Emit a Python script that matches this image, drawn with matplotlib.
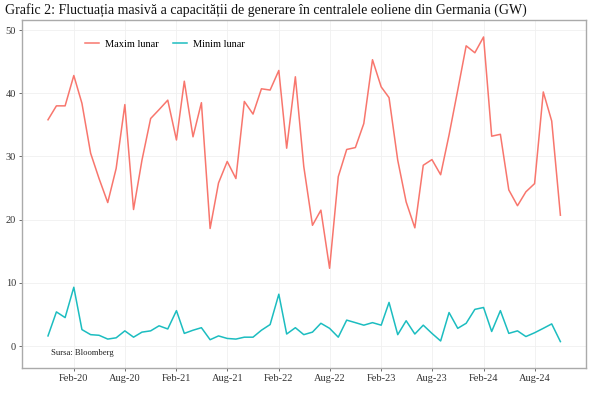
import matplotlib
matplotlib.use("Agg")
import matplotlib.pyplot as plt
import matplotlib.dates as mdates
import pandas as pd

months = pd.date_range("2019-11-01", "2024-11-01", freq="MS")

maxim = [35.8, 38.0, 38.0, 42.8, 38.4, 30.5, 26.5, 22.7, 28.1, 38.2, 21.6, 29.4,
         36.0, 37.4, 38.9, 32.6, 41.9, 33.1, 38.5, 18.6, 25.8, 29.2, 26.5, 38.7,
         36.7, 40.7, 40.5, 43.6, 31.3, 42.6, 28.4, 19.1, 21.5, 12.3, 26.8, 31.1,
         31.4, 35.2, 45.3, 41.0, 39.3, 29.4, 22.8, 18.7, 28.6, 29.5, 27.1, 33.4,
         40.5, 47.5, 46.4, 48.9, 33.2, 33.5, 24.7, 22.2, 24.4, 25.7, 40.2, 35.6,
         20.7]
minim = [1.6, 5.4, 4.5, 9.3, 2.6, 1.8, 1.7, 1.1, 1.3, 2.4, 1.4, 2.2,
         2.4, 3.2, 2.7, 5.6, 2.0, 2.5, 2.9, 1.0, 1.6, 1.2, 1.1, 1.4,
         1.4, 2.5, 3.4, 8.2, 1.9, 2.9, 1.8, 2.2, 3.6, 2.8, 1.4, 4.1,
         3.7, 3.3, 3.7, 3.3, 6.9, 1.8, 4.0, 1.9, 3.3, 2.0, 0.8, 5.3,
         2.8, 3.6, 5.8, 6.1, 2.3, 5.6, 2.0, 2.4, 1.5, 2.1, 2.8, 3.5,
         0.7]

tick_dates = pd.date_range("2020-02-01", "2024-08-01", freq="6MS")

plt.rcParams['font.family'] = ['Liberation Serif', 'DejaVu Serif']

fig = plt.figure(figsize=(6, 3.98), dpi=100)
ax = fig.add_axes([0.037, 0.075, 0.940, 0.875])

ax.plot(months, maxim, color="#F8766D", lw=1.1, label="Maxim lunar")
ax.plot(months, minim, color="#1CBDC0", lw=1.1, label="Minim lunar")

ax.text(pd.Timestamp("2019-11-10"), -1.1, "Sursa: Bloomberg", fontsize=6.2,
        color="#222222", va="center", ha="left")

ax.set_xlim(pd.Timestamp("2019-08-01"), pd.Timestamp("2025-02-01"))
ax.set_ylim(-3.5, 51.6)
ax.set_yticks([0, 10, 20, 30, 40, 50])
ax.set_xticks(tick_dates)
ax.xaxis.set_major_formatter(mdates.DateFormatter("%b-%y"))

ax.grid(True, color="#f0f0f0", lw=0.6)
ax.set_axisbelow(True)
for s in ax.spines.values():
    s.set_color("#aaaaaa")
    s.set_linewidth(1.0)
ax.tick_params(axis="both", labelsize=7.5, colors="#333333", length=2.5,
               width=0.6, pad=2)
ax.tick_params(axis="both", color="#555555")

leg = ax.legend(loc="upper left", bbox_to_anchor=(0.095, 0.97), ncol=2,
                frameon=False, fontsize=7.5, handlelength=1.3, columnspacing=1.4,
                handletextpad=0.6)

fig.text(0.008, 0.975, "Grafic 2: Fluctuația masivă a capacității de generare în centralele eoliene din Germania (GW)",
         fontsize=10, ha="left", va="center", color="#111111")

fig.savefig("out.png", dpi=100)
